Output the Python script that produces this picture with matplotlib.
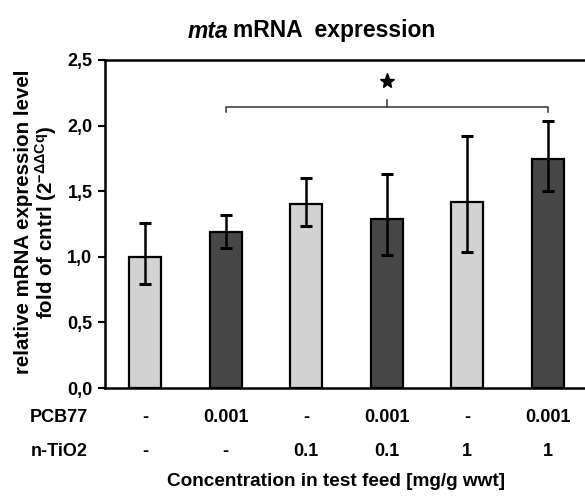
import numpy as np
import matplotlib
matplotlib.use("Agg")
import matplotlib.pyplot as plt
import matplotlib.transforms as mtransforms
from matplotlib.ticker import FuncFormatter

plt.rcParams['font.family'] = ['Liberation Sans', 'DejaVu Sans']
plt.rcParams['mathtext.fontset'] = 'custom'
plt.rcParams['mathtext.rm'] = 'Liberation Sans'
plt.rcParams['mathtext.default'] = 'regular'

# data
means = [1.00, 1.19, 1.40, 1.29, 1.42, 1.745]
err_low = [0.79, 1.07, 1.235, 1.015, 1.04, 1.50]
err_high = [1.26, 1.32, 1.60, 1.63, 1.92, 2.035]
pcb77 = ['-', '0.001', '-', '0.001', '-', '0.001']
tio2 = ['-', '-', '0.1', '0.1', '1', '1']
colors = ['#d2d2d2', '#474747', '#d2d2d2', '#474747', '#d2d2d2', '#474747']

x = np.arange(len(means))
yerr = [np.array(means) - np.array(err_low), np.array(err_high) - np.array(means)]

fig = plt.figure(figsize=(5.85, 4.96), dpi=100)
ax = fig.add_axes([105/585, 108/496, 483/585, 328/496])

ax.bar(x, means, width=0.4, color=colors, edgecolor='black', linewidth=1.6, zorder=2)
ax.errorbar(x, means, yerr=yerr, fmt='none', ecolor='black', elinewidth=1.8,
            capsize=4, capthick=2.2, zorder=3)

# significance bracket between bar 2 and bar 6
by = 2.145
ax.plot([1, 1, 5, 5], [by - 0.045, by, by, by - 0.045], color='#333333', lw=1.1, zorder=3)
ax.plot([3, 3], [by, by + 0.05], color='#333333', lw=1.1, zorder=3)
ax.plot(3, 2.34, marker='*', color='black', markersize=11, zorder=3)

ax.set_xlim(-0.5, 5.5)
ax.set_ylim(0, 2.5)
ax.set_yticks(np.arange(0, 2.51, 0.5))
ax.yaxis.set_major_formatter(FuncFormatter(lambda v, p: f"{v:.1f}".replace('.', ',')))
ax.set_xticks([])
ax.tick_params(axis='y', direction='out', length=5, width=1.5, labelsize=13, pad=4)
for lab in ax.get_yticklabels():
    lab.set_fontweight('bold')
for s in ['left', 'bottom', 'top']:
    ax.spines[s].set_linewidth(1.8)
ax.spines['right'].set_visible(False)

ax.set_ylabel("relative mRNA expression level\nfold of cntrl $(2^{-\\Delta\\Delta Cq})$",
              fontsize=14.8, fontweight='bold', linespacing=1.0)
ax.yaxis.set_label_coords(-0.095, 0.506)

# title with italic "mta"
title_y = 1 - 31/496
fig.text(228/585, title_y, "mta", fontsize=16.5, fontweight='bold', style='italic',
         ha='right', va='center')
fig.text(233/585, title_y, "mRNA  expression", fontsize=16.5, fontweight='bold',
         ha='left', va='center')

# table rows under the axis
trans = mtransforms.blended_transform_factory(ax.transData, fig.transFigure)
row_y1 = 1 - 417/496
row_y2 = 1 - 451/496
fig.text(59/585, row_y1, "PCB77", fontsize=13, fontweight='bold', ha='center', va='center')
fig.text(59/585, row_y2, "n-TiO2", fontsize=13, fontweight='bold', ha='center', va='center')
for i in range(len(x)):
    ax.text(x[i], row_y1, pcb77[i], transform=trans, fontsize=13, fontweight='bold',
            ha='center', va='center', clip_on=False)
    ax.text(x[i], row_y2, tio2[i], transform=trans, fontsize=13, fontweight='bold',
            ha='center', va='center', clip_on=False)

fig.text(336/585, 1 - 481/496, "Concentration in test feed [mg/g wwt]", fontsize=13.7,
         fontweight='bold', ha='center', va='center')

plt.savefig("out.png", dpi=100)
